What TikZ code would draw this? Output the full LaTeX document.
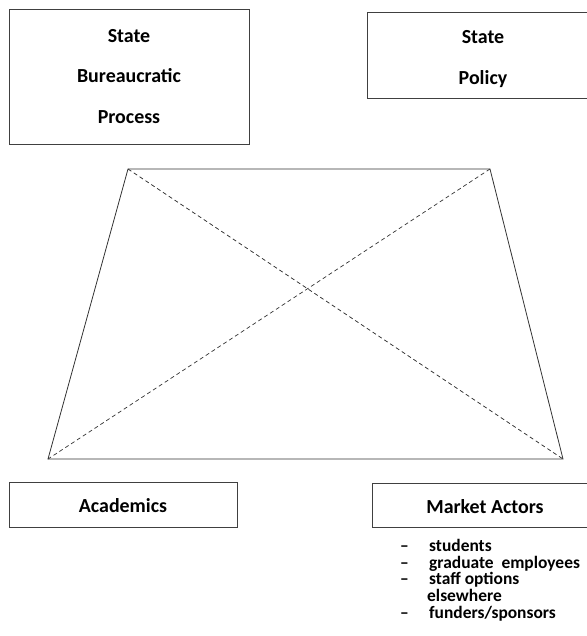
\documentclass[tikz,border=0pt]{standalone}
\usepackage{fontspec}
\setmainfont{Carlito}
\begin{document}
\begin{tikzpicture}[x=1bp,y=-1bp,
  box/.style={draw=black!75,line width=0.9bp,rectangle,inner sep=0pt,align=center,font=\bfseries\fontsize{20}{40.5}\selectfont},
  boxtext/.style={inner sep=0pt,align=center,font=\bfseries\fontsize{20}{40.5}\selectfont},
  edge/.style={draw=black!80,line width=0.8bp},
  diag/.style={draw=black!80,line width=0.7bp,dash pattern=on 4bp off 3bp},
  listtext/.style={anchor=north west,align=left,inner sep=0pt,font=\bfseries\fontsize{17.5}{16.8}\selectfont}]
\useasboundingbox (0,0) rectangle (587,636);
\clip (0,0) rectangle (587,636);
\node[box,minimum width=240bp,minimum height=135bp] (sbp) at (129,76.5) {State\\Bureaucratic\\Process};
\node[box,minimum width=232bp,minimum height=86bp] (sp) at (483,55) {};
\node[boxtext] (sptext) at (483,59) {State\\Policy};
\node[box,minimum width=228bp,minimum height=45bp] (ac) at (123,504.5) {};
\node[boxtext] (actext) at (123,506) {Academics};
\node[box,minimum width=226bp,minimum height=44bp] (ma) at (485,505) {};
\node[boxtext] (matext) at (485,506.5) {Market Actors};
\coordinate (tl) at (128,169);
\coordinate (tr) at (490,169);
\coordinate (br) at (563,459);
\coordinate (bl) at (48,459);
\draw[edge] (tl) -- (tr) -- (br) -- (bl) -- cycle;
\draw[diag] (tl) -- (br);
\draw[diag] (tr) -- (bl);
\node[listtext] (list) at (400,539) {\makebox[29bp][l]{--}students\\
\makebox[29bp][l]{--}graduate\ \ employees\\
\makebox[29bp][l]{--}staff options\\
\hspace*{27bp}elsewhere\\
\makebox[29bp][l]{--}funders/sponsors};
\end{tikzpicture}
\end{document}
